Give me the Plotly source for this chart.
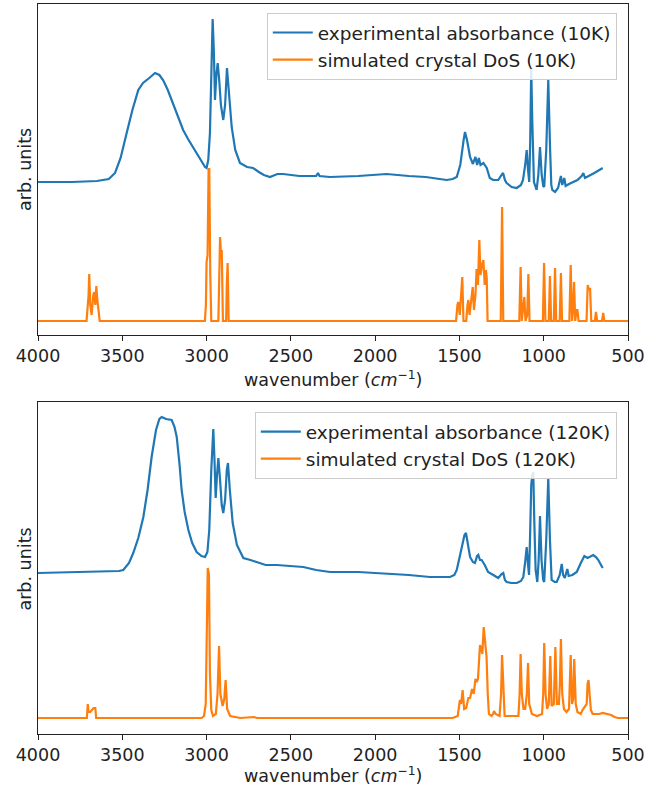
import plotly.graph_objects as go

# ---------------- data (wavenumber in cm^-1, intensity in arb. units) ----------------
exp10_wn = [4000, 3800, 3650, 3580, 3543, 3510, 3474, 3440, 3405, 3377, 3340, 3306, 3280, 3258, 3230,
            3199, 3170, 3139, 3110, 3080, 3040, 3009, 3000, 2990, 2980, 2972, 2964, 2957, 2950, 2942,
            2934, 2925, 2915, 2901, 2890, 2879, 2868, 2851, 2830, 2802, 2760, 2724, 2690, 2660, 2624,
            2580, 2546, 2450, 2350, 2339, 2330, 2268, 2100, 1932, 1800, 1700, 1576, 1540, 1516, 1495,
            1475, 1467, 1455, 1437, 1420, 1405, 1395, 1385, 1375, 1358, 1338, 1320, 1300, 1270, 1250,
            1241, 1230, 1220, 1190, 1160, 1135, 1123, 1110, 1101, 1093, 1086, 1080, 1074, 1068, 1058,
            1042, 1032, 1022, 1012, 1003, 997, 985, 973, 962, 955, 949, 933, 915, 905, 898, 890, 878,
            870, 850, 800, 775, 765, 755, 700, 650]
exp10_int = [153, 153, 154, 156, 162, 177, 202, 225, 245, 252, 257, 262, 260, 255, 245,
             232, 218, 205, 196, 188, 177, 168, 167, 175, 202, 265, 316, 285, 235, 260,
             272, 255, 230, 215, 230, 267, 240, 208, 185, 172, 168, 167, 163, 160, 158,
             161, 161, 159, 159, 162, 159, 158, 159, 161, 159, 158, 155, 156, 158, 170,
             195, 203, 195, 178, 171, 178, 170, 177, 170, 172, 167, 157, 155, 155, 160,
             162, 155, 152, 148, 147, 150, 155, 170, 185, 165, 153, 195, 267, 215, 153,
             145, 160, 188, 160, 149, 148, 185, 255, 185, 150, 145, 143, 147, 153, 159, 150, 157,
             149, 151, 155, 159, 162, 157, 162, 167]

sim10_wn = [4000, 3712, 3700, 3696, 3690, 3682, 3672, 3666, 3660, 3654, 3648, 3640, 3634,
            3010, 3004, 3000, 2994, 2988, 2984, 2978, 2972, 2930, 2924, 2920, 2914, 2910, 2903,
            2884, 2880, 2875, 2869, 1520, 1512, 1507, 1498, 1489, 1483, 1476, 1460, 1452, 1447,
            1440, 1428, 1421, 1414, 1405, 1398, 1390, 1382, 1375, 1366, 1358, 1350, 1343, 1338,
            1333, 1255, 1247, 1240, 1145, 1137, 1130, 1120, 1115, 1108, 1098, 1091, 1084, 1005,
            998, 990, 970, 963, 956, 940, 933, 926, 905, 898, 891, 848, 840, 832, 826, 820, 813,
            805, 800, 793, 746, 739, 732, 725, 718, 697, 690, 683, 654, 647, 640, 500]
sim10_int = [14, 14, 40, 61, 30, 20, 40, 43, 30, 49, 35, 20, 14,
             14, 30, 73, 80, 166, 166, 60, 14, 14, 60, 98, 80, 85, 14,
             14, 50, 72, 14, 14, 30, 33, 20, 40, 58, 14, 14, 30, 35,
             20, 40, 48, 25, 40, 66, 50, 95, 60, 70, 75, 50, 65, 57,
             14, 14, 128, 14, 14, 68, 14, 30, 38, 14, 20, 61, 14, 14,
             72, 14, 14, 59, 14, 14, 67, 14, 14, 62, 14, 14, 70, 14, 25, 53, 14,
             25, 25, 14, 14, 50, 45, 47, 14, 14, 23, 14, 14, 22, 14, 14]

exp120_wn = [4000, 3800, 3600, 3520, 3494, 3460, 3435, 3405, 3375, 3350, 3326, 3300, 3280, 3266,
             3240, 3207, 3190, 3177, 3160, 3148, 3130, 3108, 3085, 3059, 3030, 3009, 2995, 2984,
             2972, 2960, 2953, 2946, 2938, 2930, 2920, 2910, 2901, 2890, 2880, 2873, 2862, 2845,
             2820, 2782, 2740, 2703, 2650, 2584, 2500, 2426, 2350, 2268, 2100, 1971, 1800, 1675,
             1556, 1530, 1516, 1500, 1487, 1470, 1461, 1450, 1437, 1420, 1408, 1395, 1388, 1378,
             1368, 1350, 1330, 1299, 1270, 1250, 1240, 1230, 1220, 1190, 1160, 1135, 1121, 1110,
             1101, 1093, 1087, 1080, 1074, 1068, 1062, 1056, 1048, 1038, 1030, 1022, 1013, 1003,
             997, 985, 973, 963, 953, 935, 923, 905, 893, 885, 875, 860, 852, 830, 804, 780, 759,
             740, 720, 706, 690, 676, 660, 650]
exp120_int = [161, 162, 163, 163, 164, 171, 181, 196, 217, 244, 277, 304, 315, 317,
              315, 314, 307, 297, 269, 244, 222, 204, 191, 182, 178, 177, 182, 204,
              264, 305, 274, 236, 259, 276, 254, 229, 221, 234, 264, 271, 244, 211,
              189, 176, 174, 172, 169, 169, 168, 167, 164, 162, 162, 161, 159, 157,
              157, 159, 164, 176, 187, 199, 201, 189, 177, 172, 171, 178, 179, 174,
              174, 169, 162, 159, 156, 160, 161, 154, 152, 151, 151, 153, 157, 172,
              187, 169, 159, 204, 249, 259, 262, 214, 164, 152, 174, 218, 174, 154,
              152, 194, 256, 194, 154, 152, 152, 159, 170, 159, 156, 165, 158, 159, 162, 171, 178,
              176, 178, 179, 177, 174, 169, 166]

sim120_wn = [4000, 3710, 3705, 3700, 3690, 3680, 3670, 3660, 3655, 3030, 3015, 3005, 2998, 2993,
             2986, 2980, 2972, 2962, 2945, 2935, 2926, 2918, 2905, 2895, 2887, 2878, 2860, 2800,
             2720, 2700, 1540, 1510, 1502, 1497, 1490, 1481, 1472, 1460, 1447, 1437, 1425, 1415,
             1405, 1398, 1390, 1385, 1378, 1370, 1364, 1356, 1348, 1339, 1332, 1325, 1310, 1300,
             1295, 1285, 1262, 1253, 1247, 1240, 1232, 1150, 1143, 1137, 1130, 1120, 1110, 1100,
             1093, 1086, 1070, 1040, 1010, 1003, 997, 989, 980, 970, 961, 953, 940, 931, 922, 910,
             904, 898, 890, 880, 865, 850, 840, 832, 825, 819, 810, 800, 780, 770, 745, 740, 734,
             728, 720, 710, 690, 670, 650, 620, 600, 580, 560, 500]
sim120_int = [16, 16, 30, 22, 22, 24, 26, 26, 16, 16, 18, 30, 120, 166,
              160, 60, 24, 18, 20, 40, 88, 40, 28, 35, 54, 25, 18, 16,
              17, 16, 16, 18, 28, 34, 30, 44, 25, 26, 36, 36, 45, 40,
              55, 52, 55, 70, 89, 85, 80, 107, 90, 77, 40, 20, 18, 20,
              23, 20, 18, 40, 79, 40, 18, 18, 40, 80, 40, 25, 25, 40,
              71, 30, 20, 18, 20, 40, 91, 40, 25, 30, 78, 28, 30, 87, 30, 30,
              50, 95, 40, 25, 22, 25, 79, 30, 35, 75, 30, 22, 20, 24, 30, 50, 54,
              40, 24, 20, 20, 20, 21, 20, 19, 17, 16, 16]

x_ticks = [4000, 3500, 3000, 2500, 2000, 1500, 1000, 500]
labels_top = ["experimental absorbance (10K)", "simulated crystal DoS (10K)"]
labels_bot = ["experimental absorbance (120K)", "simulated crystal DoS (120K)"]

# ---------------- figure ----------------
BLUE = "#1f77b4"
ORANGE = "#ff7f0e"
FONT = "DejaVu Sans"

fig = go.Figure()
fig.add_trace(go.Scatter(x=exp10_wn, y=exp10_int, mode="lines", name=labels_top[0],
                         line=dict(color=BLUE, width=2.2), xaxis="x", yaxis="y", legend="legend"))
fig.add_trace(go.Scatter(x=sim10_wn, y=sim10_int, mode="lines", name=labels_top[1],
                         line=dict(color=ORANGE, width=2.2), xaxis="x", yaxis="y", legend="legend"))
fig.add_trace(go.Scatter(x=exp120_wn, y=exp120_int, mode="lines", name=labels_bot[0],
                         line=dict(color=BLUE, width=2.2), xaxis="x2", yaxis="y2", legend="legend2"))
fig.add_trace(go.Scatter(x=sim120_wn, y=sim120_int, mode="lines", name=labels_bot[1],
                         line=dict(color=ORANGE, width=2.2), xaxis="x2", yaxis="y2", legend="legend2"))

xcommon = dict(range=[4000, 500], tickvals=x_ticks, ticks="outside", ticklen=5, tickwidth=1,
               tickcolor="#222", showline=True, linecolor="#222", linewidth=1, mirror=True,
               showgrid=False, zeroline=False, tickfont=dict(family=FONT, size=17.5, color="#222"))
ycommon = dict(showticklabels=False, ticks="", showline=True, linecolor="#222", linewidth=1,
               mirror=True, showgrid=False, zeroline=False)

legcommon = dict(font=dict(family=FONT, size=18.5, color="#222"), bgcolor="rgba(255,255,255,0.85)",
                 bordercolor="#cccccc", borderwidth=1, xanchor="right", yanchor="top",
                 itemwidth=40, tracegroupgap=0)

fig.update_layout(
    width=659, height=788,
    margin=dict(l=38, r=31, t=4, b=54),
    paper_bgcolor="white", plot_bgcolor="white",
    showlegend=True,
    xaxis=dict(domain=[0, 1], anchor="y", **xcommon),
    yaxis=dict(domain=[0.5466, 1.0], range=[0, 331], anchor="x", **ycommon),
    xaxis2=dict(domain=[0, 1], anchor="y2", **xcommon),
    yaxis2=dict(domain=[0.0, 0.4548], range=[0, 332], anchor="x2", **ycommon),
    legend=dict(x=0.981, y=0.9877, **legcommon),
    legend2=dict(x=0.981, y=0.441, **legcommon),
)

title_font = dict(family=FONT, size=17.5, color="#222")
xt = "wavenumber (<i>cm</i><sup>−1</sup>)"
fig.add_annotation(text=xt, xref="paper", yref="paper", x=0.5, y=0.4863, showarrow=False,
                   xanchor="center", yanchor="middle", font=title_font)
fig.add_annotation(text=xt, xref="paper", yref="paper", x=0.5, y=-0.0562, showarrow=False,
                   xanchor="center", yanchor="middle", font=title_font)
fig.add_annotation(text="arb. units", xref="paper", yref="paper", x=-0.022, y=0.7726, showarrow=False,
                   xanchor="center", yanchor="middle", textangle=-90, font=title_font)
fig.add_annotation(text="arb. units", xref="paper", yref="paper", x=-0.022, y=0.2253, showarrow=False,
                   xanchor="center", yanchor="middle", textangle=-90, font=title_font)

fig.write_html("out.html")
